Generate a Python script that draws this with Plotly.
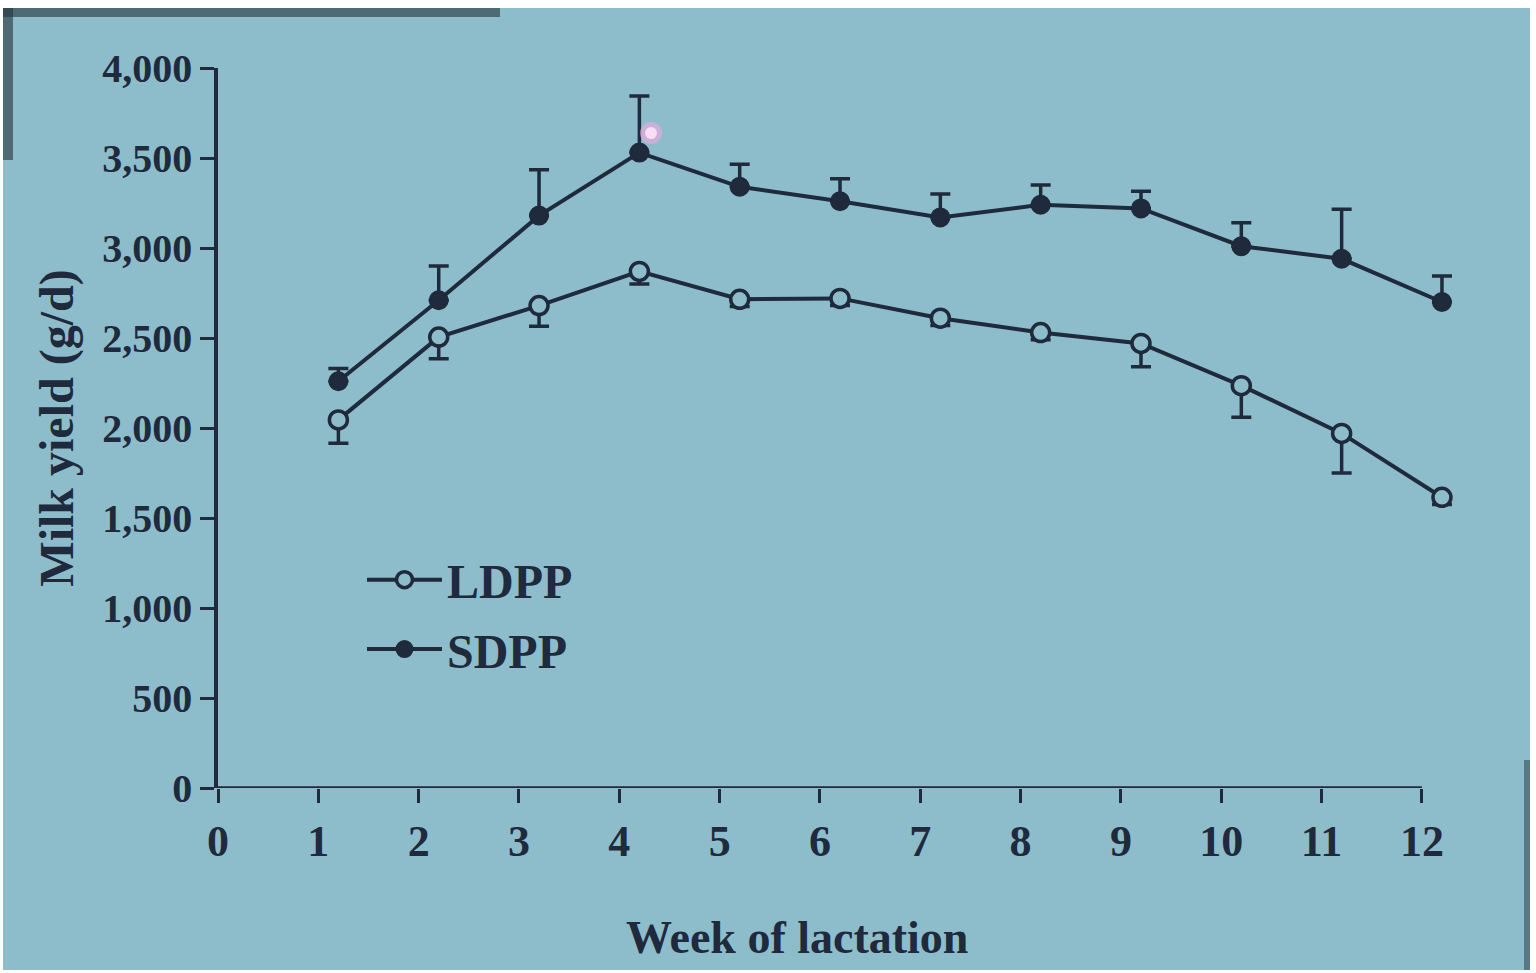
import plotly.graph_objects as go

# Milk yield by week of lactation for two dry-period photoperiod groups
weeks = [1, 2, 3, 4, 5, 6, 7, 8, 9, 10, 11, 12]
ldpp_yield = [2045, 2505, 2680, 2870, 2715, 2720, 2610, 2530, 2470, 2235, 1970, 1615]
ldpp_err = [130, 120, 115, 70, 40, 40, 40, 40, 130, 175, 220, 40]
sdpp_yield = [2260, 2710, 3180, 3530, 3340, 3260, 3170, 3240, 3220, 3010, 2940, 2700]
sdpp_err = [70, 190, 255, 315, 125, 125, 130, 110, 95, 130, 275, 145]
x_ticks = list(range(0, 13))
y_ticks = [0, 500, 1000, 1500, 2000, 2500, 3000, 3500, 4000]
y_tick_text = ["0", "500", "1,000", "1,500", "2,000", "2,500", "3,000", "3,500", "4,000"]

INK = "#1f2a3d"
BG = "#8dbdcb"
FONT = "Liberation Serif"
SHIFT = 0.2  # points sit just right of each week tick

xs = [w + SHIFT for w in weeks]

fig = go.Figure()
fig.add_trace(go.Scatter(
    x=xs, y=ldpp_yield, name="<b>LDPP</b>", mode="lines+markers", legendgroup="a",
    line=dict(color=INK, width=4),
    marker=dict(symbol="circle", size=18, color=BG, line=dict(color=INK, width=3.5)),
    error_y=dict(type="data", symmetric=False, array=[0] * len(weeks),
                 arrayminus=ldpp_err, color=INK, thickness=3.5, width=10),
    cliponaxis=False,
))
fig.add_trace(go.Scatter(
    x=xs, y=sdpp_yield, name="<b>SDPP</b>", mode="lines+markers", legendgroup="b",
    line=dict(color=INK, width=4),
    marker=dict(symbol="circle", size=18, color=INK, line=dict(color=INK, width=2)),
    error_y=dict(type="data", symmetric=False, array=sdpp_err,
                 arrayminus=[0] * len(weeks), color=INK, thickness=3.5, width=10),
    cliponaxis=False,
))

L, R, T, B = 218, 84, 68, 185
W, H = 1536, 973
pw, ph = W - L - R, H - T - B


def px(x):
    return (x - L) / pw


def py(y):
    return (H - B - y) / ph


fig.update_layout(
    width=W, height=H,
    margin=dict(l=L, r=R, t=T, b=B),
    paper_bgcolor="white",
    plot_bgcolor="rgba(0,0,0,0)",
    showlegend=True,
    legend=dict(
        x=px(362), y=py(542), xanchor="left", yanchor="top",
        bgcolor="rgba(0,0,0,0)",
        font=dict(family=FONT, size=48, color=INK),
        itemwidth=75, tracegroupgap=4,
    ),
    shapes=[
        # projected slide area
        dict(type="rect", xref="paper", yref="paper", layer="below",
             x0=px(3), x1=px(1530), y0=py(970), y1=py(8),
             fillcolor=BG, line=dict(width=0)),
        # shadowed edges of the screen
        dict(type="rect", xref="paper", yref="paper", layer="below",
             x0=px(3), x1=px(500), y0=py(17), y1=py(8),
             fillcolor="#24343c", line=dict(width=0), opacity=0.6),
        dict(type="rect", xref="paper", yref="paper", layer="below",
             x0=px(3), x1=px(13), y0=py(160), y1=py(8),
             fillcolor="#24343c", line=dict(width=0), opacity=0.6),
        dict(type="rect", xref="paper", yref="paper", layer="below",
             x0=px(1524), x1=px(1530), y0=py(970), y1=py(760),
             fillcolor="#24343c", line=dict(width=0), opacity=0.5),
        # x axis baseline from week 0 to week 12
        dict(type="line", xref="x", yref="y", x0=0, x1=12, y0=0, y1=0,
             line=dict(color=INK, width=3.5)),
        # pointer highlight
        dict(type="circle", xref="paper", yref="paper",
             x0=px(640), x1=px(662), y0=py(144), y1=py(122),
             fillcolor="#f2a6e0", line=dict(width=0), opacity=0.6),
        dict(type="circle", xref="paper", yref="paper",
             x0=px(645), x1=px(657), y0=py(139), y1=py(127),
             fillcolor="#fbe0f6", line=dict(width=0), opacity=0.95),
    ],
    annotations=[
        dict(text="<b>Week of lactation</b>", xref="paper", yref="paper",
             x=px(797), y=py(937), xanchor="center", yanchor="middle", showarrow=False,
             font=dict(family=FONT, size=46, color=INK)),
    ],
    xaxis=dict(
        range=[0, 12.3], tickvals=x_ticks, ticktext=[f"<b>{t}</b>" for t in x_ticks],
        ticks="outside", ticklen=14, tickwidth=3,
        tickcolor=INK, showline=False,
        showgrid=False, zeroline=False,
        tickfont=dict(family=FONT, size=44, color=INK),
    ),
    yaxis=dict(
        range=[0, 4000], tickvals=y_ticks, ticktext=[f"<b>{t}</b>" for t in y_tick_text],
        ticks="outside", ticklen=14, tickwidth=3, tickcolor=INK,
        showline=True, linecolor=INK, linewidth=3.5,
        showgrid=False, zeroline=False,
        tickfont=dict(family=FONT, size=40, color=INK),
        title=dict(text="<b>Milk yield (g/d)</b>", font=dict(family=FONT, size=48, color=INK),
                   standoff=14),
    ),
)

fig.write_html("out.html")
